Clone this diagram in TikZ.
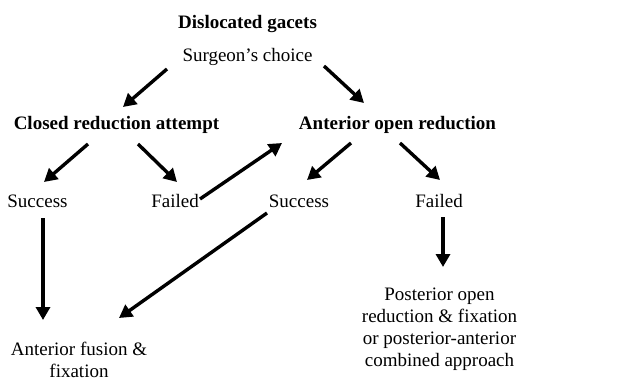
\documentclass[tikz,border=0pt]{standalone}
\usepackage{fontspec}
\setmainfont{Liberation Serif}
\usetikzlibrary{arrows.meta}
\begin{document}
\begin{tikzpicture}[x=1pt,y=-1pt, every node/.style={font=\fontsize{19}{22}\selectfont, inner sep=0pt},
  lbl/.style={anchor=base}, blk/.style={align=center},
  arr/.style={-{Triangle[length=13pt,width=14pt]}, line width=3.4pt}]
\useasboundingbox (0,0) rectangle (628,390);
\node[lbl] (title) at (247.5,29) {\textbf{Dislocated gacets}};
\node[lbl] (choice) at (247.5,62) {Surgeon's choice};
\node[lbl] (closed) at (116.5,130) {\textbf{Closed reduction attempt}};
\node[lbl] (open) at (397.5,130) {\textbf{Anterior open reduction}};
\node[lbl] (succL) at (37.5,207) {Success};
\node[lbl] (failL) at (175,207) {Failed};
\node[lbl] (succM) at (299,207) {Success};
\node[lbl] (failR) at (439,207) {Failed};
\node[blk] (fusion) at (79,359.5) {Anterior fusion \&\\fixation};
\node[blk] (post) at (439.5,329.5) {Posterior open\\reduction \& fixation\\or posterior-anterior\\combined approach};
% arrows
\draw[arr] ([shift={(-80.5,7)}]choice.base) -- ([shift={(6.5,-23)}]closed.base);
\draw[arr] ([shift={(76.5,4)}]choice.base) -- ([shift={(-33.5,-27)}]open.base);
\draw[arr] ([shift={(-28.5,14)}]closed.base) -- ([shift={(6.5,-25)}]succL.base);
\draw[arr] ([shift={(21.5,14)}]closed.base) -- ([shift={(2,-25)}]failL.base);
\draw[arr] ([shift={(25,-8)}]failL.base) -- ([shift={(-115.5,13)}]open.base);
\draw[arr] ([shift={(-46.5,13)}]open.base) -- ([shift={(8,-27)}]succM.base);
\draw[arr] ([shift={(2.5,13)}]open.base) -- ([shift={(1,-27)}]failR.base);
\draw[arr] ([shift={(5.5,11)}]succL.base) -- ([shift={(-36,-39.5)}]fusion.center);
\draw[arr] ([shift={(-32,6)}]succM.base) -- ([shift={(40,-41.5)}]fusion.center);
\draw[arr] ([shift={(4,10)}]failR.base) -- ([shift={(3.5,-62.5)}]post.center);
\end{tikzpicture}
\end{document}
